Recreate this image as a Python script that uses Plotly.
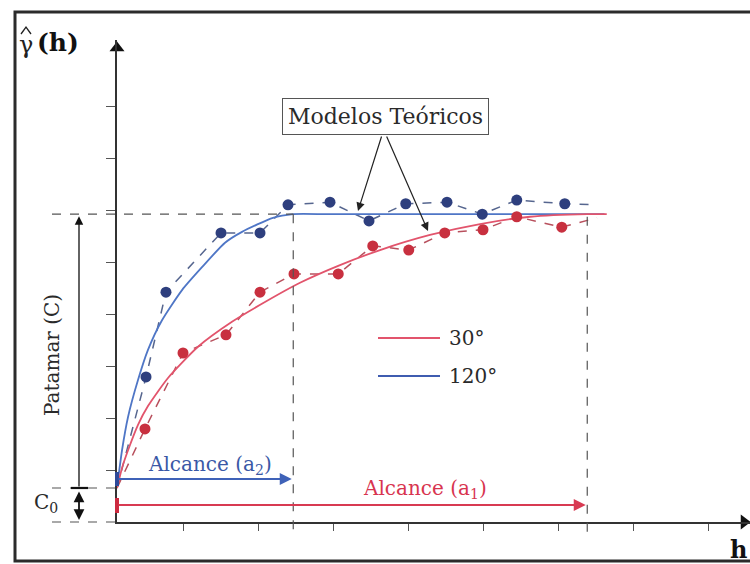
import plotly.graph_objects as go

# ---------------- data (lag h, semivariance gamma) ----------------
h_ticks = [0.88, 1.88, 2.88, 3.88, 4.88, 5.88, 6.88, 7.88]
gamma_ticks = [1, 2, 3, 4, 5, 6, 7, 8]

nugget = 0.654          # C0
sill = 5.92             # C0 + C
range_120 = 2.35        # a2
range_30 = 6.27         # a1

# experimental semivariogram, 120 degrees (blue)
h_120 = [0.387, 0.653, 1.387, 1.907, 2.28, 2.84, 3.36, 3.85, 4.40, 4.87, 5.33, 5.97]
g_120 = [2.79, 4.42, 5.56, 5.56, 6.10, 6.15, 5.79, 6.12, 6.15, 5.92, 6.19, 6.12]
# experimental semivariogram, 30 degrees (red)
h_30 = [0.373, 0.88, 1.453, 1.907, 2.36, 2.95, 3.41, 3.89, 4.37, 4.88, 5.33, 5.93]
g_30 = [1.79, 3.25, 3.60, 4.42, 4.77, 4.77, 5.31, 5.23, 5.56, 5.62, 5.87, 5.67]

# dashed connecting lines: start at origin, end extension
dash_start_h = 0.0
dash_end_h = 6.4
dash_end_g_120 = 6.10
dash_end_g_30 = 5.85

# theoretical models
model_h_120 = [0, 0.067, 0.147, 0.28, 0.413, 0.6, 0.867, 1.133, 1.44, 1.667, 2.08, 2.35,
               2.8, 3.6, 4.6, 5.6, 6.5]
model_g_120 = [0.654, 1.38, 2.02, 2.73, 3.31, 3.88, 4.46, 4.90, 5.37, 5.58, 5.85, 5.92,
               5.92, 5.92, 5.92, 5.92, 5.92]
model_h_30 = [0, 0.067, 0.147, 0.28, 0.413, 0.68, 1.08, 1.533, 1.973, 2.44, 2.973, 3.507,
              4.173, 4.84, 5.507, 6.27, 6.53]
model_g_30 = [0.654, 1.04, 1.38, 1.87, 2.23, 2.77, 3.37, 3.85, 4.23, 4.60, 4.94, 5.23,
              5.52, 5.73, 5.87, 5.92, 5.92]

# ---------------- styling ----------------
W, H = 750, 564
OX, OY = 117, 522        # pixel origin of the drawn axes
SX, SY = 75.0, 52.0      # pixels per unit
FONT = "DejaVu Serif"
BLUE_LINE = "#4f76c6"
RED_LINE = "#e2546c"
BLUE_DOT = "#2e3f7e"
RED_DOT = "#c8303f"
BLUE_DASH = "#56668f"
RED_DASH = "#b8505d"
DARK = "#2b2b2b"
BLUE_TXT = "#3a58a6"
RED_TXT = "#d8344f"


def px_x(p):
    return (p - OX) / SX


def px_y(p):
    return (OY - p) / SY


fig = go.Figure()

# dashed experimental lines
fig.add_trace(go.Scatter(x=[dash_start_h] + h_120 + [dash_end_h],
                         y=[nugget] + g_120 + [dash_end_g_120],
                         mode="lines", line=dict(color=BLUE_DASH, width=1.5, dash="dash")))
fig.add_trace(go.Scatter(x=[dash_start_h] + h_30 + [dash_end_h],
                         y=[nugget] + g_30 + [dash_end_g_30],
                         mode="lines", line=dict(color=RED_DASH, width=1.5, dash="dash")))
# theoretical models
fig.add_trace(go.Scatter(x=model_h_120, y=model_g_120, mode="lines",
                         line=dict(color=BLUE_LINE, width=1.8, shape="spline", smoothing=0.6)))
fig.add_trace(go.Scatter(x=model_h_30, y=model_g_30, mode="lines",
                         line=dict(color=RED_LINE, width=1.8, shape="spline", smoothing=0.6)))
# experimental points
fig.add_trace(go.Scatter(x=h_120, y=g_120, mode="markers",
                         marker=dict(color=BLUE_DOT, size=11, line=dict(width=0))))
fig.add_trace(go.Scatter(x=h_30, y=g_30, mode="markers",
                         marker=dict(color=RED_DOT, size=11, line=dict(width=0))))

# axis arrowheads
fig.add_trace(go.Scatter(x=[0], y=[px_y(48)], mode="markers", cliponaxis=False,
                         marker=dict(symbol="triangle-up", size=13, color="#111")))
fig.add_trace(go.Scatter(x=[px_x(744)], y=[0], mode="markers", cliponaxis=False,
                         marker=dict(symbol="triangle-right", size=13, color="#111")))

# invisible trace creating the visible-axes subplot
fig.add_trace(go.Scatter(x=[0], y=[0], xaxis="x2", yaxis="y2", mode="markers",
                         marker=dict(opacity=0)))

shapes = []
dash_style = dict(color="#555555", width=1.2, dash="dash")
left_dash = px_x(52)
shapes.append(dict(type="line", x0=left_dash, x1=range_120, y0=sill, y1=sill, line=dash_style))
shapes.append(dict(type="line", x0=left_dash, x1=0, y0=nugget, y1=nugget, line=dash_style))
shapes.append(dict(type="line", x0=left_dash, x1=0, y0=0, y1=0, line=dash_style))
shapes.append(dict(type="line", x0=range_120, x1=range_120, y0=sill, y1=px_y(532), line=dash_style))
shapes.append(dict(type="line", x0=range_30, x1=range_30, y0=5.87, y1=px_y(532), line=dash_style))
# C0 top bar
shapes.append(dict(type="line", x0=px_x(71), x1=px_x(88), y0=nugget, y1=nugget,
                   line=dict(color="#111", width=2.2)))
# origin marks of the range arrows
shapes.append(dict(type="line", x0=0, x1=0, y0=px_y(472), y1=px_y(486),
                   line=dict(color="#2e4a9a", width=4)))
shapes.append(dict(type="line", x0=0, x1=0, y0=px_y(498), y1=px_y(513),
                   line=dict(color="#cc2a40", width=4)))
# legend lines
shapes.append(dict(type="line", x0=px_x(378), x1=px_x(440), y0=px_y(338), y1=px_y(338),
                   line=dict(color=RED_LINE, width=2)))
shapes.append(dict(type="line", x0=px_x(378), x1=px_x(440), y0=px_y(376), y1=px_y(376),
                   line=dict(color="#3f5cb0", width=2)))
# hat over gamma
shapes.append(dict(type="path",
                   path=f"M {px_x(21)},{px_y(34)} L {px_x(26)},{px_y(27)} L {px_x(31)},{px_y(34)}",
                   line=dict(color="#222", width=1.3)))
# outer frame
shapes.append(dict(type="rect", xref="paper", yref="paper", x0=15 / W, x1=1.02,
                   y0=1 - 561 / H, y1=1 - 12 / H, line=dict(color=DARK, width=3)))

ann = []
# Patamar arrow
ann.append(dict(x=px_x(79), y=5.88, ax=px_x(79), ay=nugget, axref="x", ayref="y",
                xref="x", yref="y", text="", showarrow=True, arrowhead=2, arrowsize=1.3,
                arrowwidth=1.3, arrowcolor="#111"))
# C0 double arrow
ann.append(dict(x=px_x(79), y=px_y(520), ax=px_x(79), ay=px_y(490), axref="x", ayref="y",
                xref="x", yref="y", text="", showarrow=True, arrowhead=2, startarrowhead=2,
                arrowside="end+start", arrowsize=1.2, arrowwidth=1.8, arrowcolor="#111"))
# range arrows
ann.append(dict(x=range_120 - 0.02, y=px_y(479), ax=0, ay=px_y(479), axref="x", ayref="y",
                xref="x", yref="y", text="", showarrow=True, arrowhead=2, arrowsize=1.2,
                arrowwidth=2, arrowcolor="#3f62b8"))
ann.append(dict(x=range_30 - 0.02, y=px_y(505), ax=0, ay=px_y(505), axref="x", ayref="y",
                xref="x", yref="y", text="", showarrow=True, arrowhead=2, arrowsize=1.2,
                arrowwidth=2, arrowcolor="#d83a52"))
# Modelos Teoricos pointers
ann.append(dict(x=px_x(358), y=px_y(211), ax=px_x(382), ay=px_y(135), axref="x", ayref="y",
                xref="x", yref="y", text="", showarrow=True, arrowhead=2, arrowsize=1.4,
                arrowwidth=1.2, arrowcolor="#222"))
ann.append(dict(x=px_x(428), y=px_y(231), ax=px_x(386), ay=px_y(135), axref="x", ayref="y",
                xref="x", yref="y", text="", showarrow=True, arrowhead=2, arrowsize=1.4,
                arrowwidth=1.2, arrowcolor="#222"))


def text(x, y, t, size, color="#222", **kw):
    d = dict(x=x, y=y, xref="x", yref="y", text=t, showarrow=False,
             font=dict(family=FONT, size=size, color=color))
    d.update(kw)
    ann.append(d)


text(px_x(385), px_y(116), "Modelos Teóricos", 22, "#2a2a2a",
     bordercolor="#555", borderwidth=1, borderpad=5, bgcolor="white")
text(px_x(210), px_y(465), "Alcance (a<sub>2</sub>)", 20, BLUE_TXT)
text(px_x(425), px_y(489), "Alcance (a<sub>1</sub>)", 20, RED_TXT)
text(px_x(52), px_y(355), "Patamar (C)", 20, "#2a2a2a", textangle=-90)
text(px_x(46), px_y(503), "C<sub>0</sub>", 20, "#2a2a2a")
text(px_x(447), px_y(338), "30°", 20, "#2a2a2a", xanchor="left")
text(px_x(447), px_y(376), "120°", 20, "#2a2a2a", xanchor="left")
text(px_x(738), px_y(549), "<b>h</b>", 24, "#111")
text(px_x(26), px_y(45), "γ", 24, "#222")
text(px_x(58), px_y(42), "<b>(h)</b>", 25, "#111")

fig.update_layout(
    width=W, height=H, margin=dict(l=0, r=0, t=0, b=0),
    paper_bgcolor="white", plot_bgcolor="rgba(0,0,0,0)",
    showlegend=False, hovermode=False,
    font=dict(family=FONT),
    xaxis=dict(range=[px_x(0), px_x(W)], visible=False, domain=[0, 1]),
    yaxis=dict(range=[px_y(H), px_y(0)], visible=False, domain=[0, 1]),
    xaxis2=dict(range=[0, px_x(W)], domain=[OX / W, 1], anchor="y2",
                showline=True, linecolor="#333", linewidth=1.5, mirror=False,
                ticks="outside", ticklen=7, tickwidth=1, tickcolor="#555",
                tickvals=h_ticks, showticklabels=False, showgrid=False, zeroline=False),
    yaxis2=dict(range=[0, px_y(40)], domain=[(H - OY) / H, (H - 40) / H], anchor="x2",
                showline=True, linecolor="#333", linewidth=1.5, mirror=False,
                ticks="outside", ticklen=9, tickwidth=1, tickcolor="#555",
                tickvals=gamma_ticks, showticklabels=False, showgrid=False, zeroline=False),
    shapes=shapes, annotations=ann,
)

fig.write_html("out.html")
